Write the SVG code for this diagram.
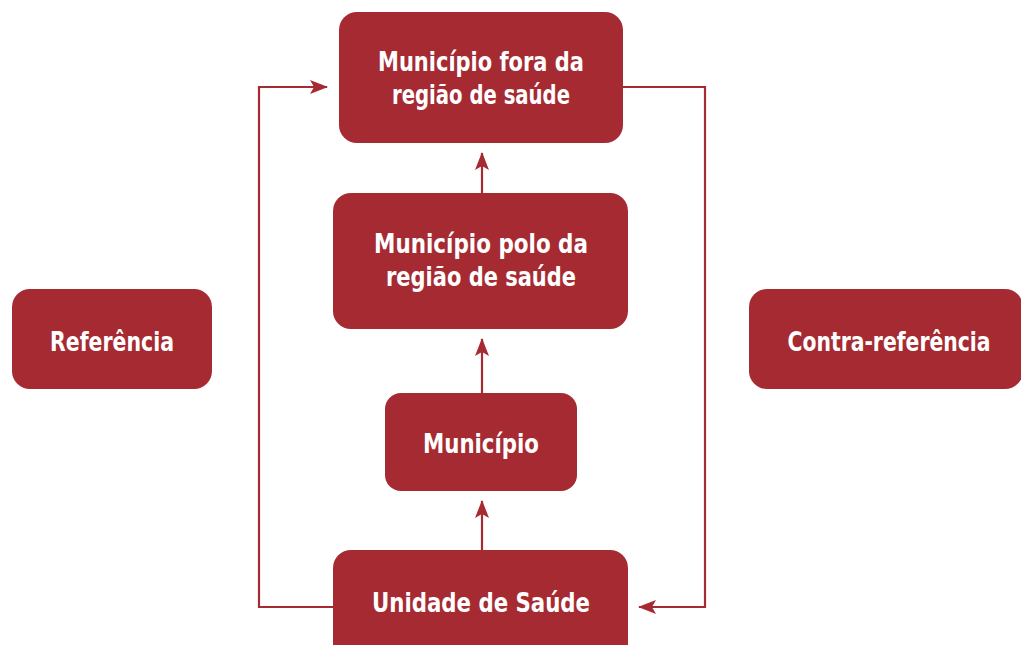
<svg xmlns="http://www.w3.org/2000/svg" width="1021" height="645" viewBox="0 0 1021 645">
<defs>
<style>
.box{fill:#a62a32}
.lbl{fill:#ffffff;font-family:"Liberation Sans Narrow","DejaVu Sans Condensed","Roboto Condensed","Liberation Sans",sans-serif;font-weight:bold;font-size:26px;text-anchor:middle}
.con{fill:none;stroke:#a62a32;stroke-width:2.2}
</style>
<marker id="ah" viewBox="0 0 18 14" refX="17" refY="7" markerWidth="18" markerHeight="14" markerUnits="userSpaceOnUse" orient="auto">
<path d="M0,0 L18,7 L0,14 L4,7 Z" fill="#a62a32"/>
</marker>
</defs>
<rect width="1021" height="645" fill="#ffffff"/>
<g id="connectors">
<path class="con" d="M333,607 H259 V87 H327" marker-end="url(#ah)"/>
<path class="con" d="M623,87 H705 V607 H639" marker-end="url(#ah)"/>
<path class="con" d="M482,193 V153" marker-end="url(#ah)"/>
<path class="con" d="M482,393 V339" marker-end="url(#ah)"/>
<path class="con" d="M482,550 V501" marker-end="url(#ah)"/>
</g>
<g id="node-fora">
<rect class="box" x="339" y="12" width="284" height="131" rx="18"/>
<text class="lbl" x="481" y="71" textLength="206" lengthAdjust="spacingAndGlyphs">Município fora da</text>
<text class="lbl" x="481" y="104" textLength="178" lengthAdjust="spacingAndGlyphs">região de saúde</text>
</g>
<g id="node-polo">
<rect class="box" x="333" y="193" width="295" height="136" rx="18"/>
<text class="lbl" x="481" y="253" textLength="214" lengthAdjust="spacingAndGlyphs">Município polo da</text>
<text class="lbl" x="481" y="286" textLength="190" lengthAdjust="spacingAndGlyphs">região de saúde</text>
</g>
<g id="node-municipio">
<rect class="box" x="385" y="393" width="192" height="98" rx="16"/>
<text class="lbl" x="481" y="453" textLength="116" lengthAdjust="spacingAndGlyphs">Município</text>
</g>
<g id="node-unidade">
<rect class="box" x="333" y="550" width="295" height="115" rx="18"/>
<text class="lbl" x="481" y="612" textLength="218" lengthAdjust="spacingAndGlyphs">Unidade de Saúde</text>
</g>
<g id="node-referencia">
<rect class="box" x="12" y="289" width="200" height="100" rx="18"/>
<text class="lbl" x="112" y="351" textLength="124" lengthAdjust="spacingAndGlyphs">Referência</text>
</g>
<g id="node-contra">
<rect class="box" x="749" y="289" width="274" height="100" rx="18"/>
<text class="lbl" x="889" y="351" textLength="203" lengthAdjust="spacingAndGlyphs">Contra-referência</text>
</g>
</svg>
